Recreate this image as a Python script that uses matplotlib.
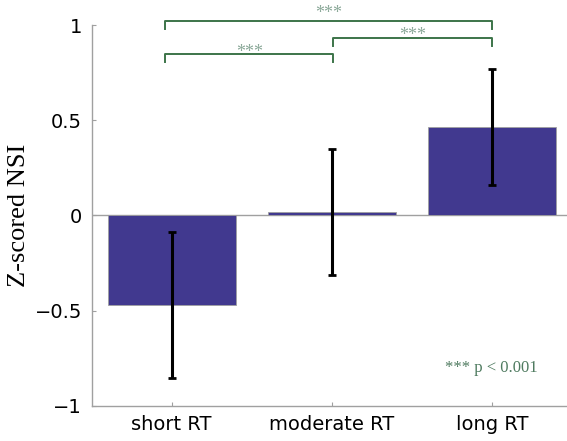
import numpy as np
import matplotlib.pyplot as plt

# ===================================================================================
# DATA
# ===================================================================================
categories = ["short RT", "moderate RT", "long RT"]
nsi_means = [-0.47, 0.017, 0.465]
nsi_errors = [0.385, 0.33, 0.305]

# significance brackets: (x start, x end, height, label)
sig_x1 = [0.96, 2.01, 0.96]
sig_x2 = [2.01, 3.0, 3.0]
sig_y = [0.849, 0.934, 1.02]
sig_label_y = [0.832, 0.922, 1.036]
sig_labels = ["***", "***", "***"]

y_ticks = [-1, -0.5, 0, 0.5, 1]
y_tick_labels = ["\u22121", "\u22120.5", "0", "0.5", "1"]

# ===================================================================================
# PLOT
# ===================================================================================
bar_color = "#41398F"
axis_color = "#A0A0A0"
bracket_color = "#3C7449"
star_color = "#8AA898"

fig = plt.figure(figsize=(5.67, 4.41), dpi=100)
ax = fig.add_axes([0.1617, 0.080, 0.8383, 0.863])

x = np.arange(1, len(categories) + 1)
ax.bar(x, nsi_means, width=0.8, color=bar_color, edgecolor=axis_color, linewidth=0.6, zorder=2)
ax.errorbar(x, nsi_means, yerr=nsi_errors, fmt="none", ecolor="black",
            elinewidth=2.2, capsize=3, capthick=2, zorder=3)
ax.axhline(0, color=axis_color, linewidth=1, zorder=1)

# Significance brackets drawn above the bars
tick_len = 0.042
for i in range(len(sig_y)):
    ax.plot([sig_x1[i], sig_x1[i], sig_x2[i], sig_x2[i]],
            [sig_y[i] - tick_len, sig_y[i], sig_y[i], sig_y[i] - tick_len],
            color=bracket_color, linewidth=1.4, clip_on=False, zorder=4)
    ax.text((sig_x1[i] + sig_x2[i]) / 2, sig_label_y[i], sig_labels[i],
            ha="center", va="baseline", color=star_color, fontsize=13,
            family="Liberation Serif", clip_on=False)

ax.text(3.0, -0.80, "*** p < 0.001", ha="center", va="center",
        color="#4F7B60", fontsize=12, family="Liberation Serif")

ax.set_xlim(0.5, 3.47)
ax.set_ylim(-1, 1)
ax.set_xticks(x)
ax.set_xticklabels(categories)
ax.set_yticks(y_ticks)
ax.set_yticklabels(y_tick_labels)
ax.tick_params(direction="in", length=3, color=axis_color, labelsize=14, pad=7)
ax.set_ylabel("Z-scored NSI", family="Liberation Serif", fontsize=19, labelpad=3)

for side in ["top", "right"]:
    ax.spines[side].set_visible(False)
for side in ["left", "bottom"]:
    ax.spines[side].set_color(axis_color)
    ax.spines[side].set_linewidth(1)

fig.savefig("out.png", dpi=100)
